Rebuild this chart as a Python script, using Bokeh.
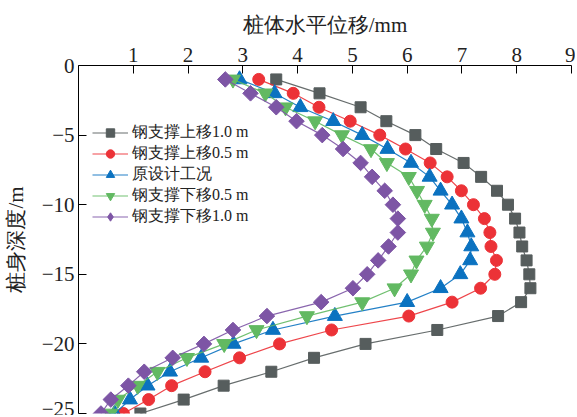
import math
from bokeh.plotting import figure
from bokeh.models import FixedTicker, Range1d, Legend
from bokeh.embed import file_html
from bokeh.resources import INLINE

depth = [-1, -2, -3, -4, -5, -6, -7, -8, -9, -10, -11, -12, -13,
         -14, -15, -16, -17, -18, -19, -20, -21, -22, -23, -24, -25]

up_1_0 = [3.61, 4.40, 5.15, 5.62, 6.15, 6.53, 7.03, 7.35, 7.64, 7.84, 7.97, 8.05, 8.10,
          8.18, 8.23, 8.25, 8.08, 7.66, 6.55, 5.24, 4.30, 3.52, 2.65, 1.92, 1.13]
up_0_5 = [3.29, 3.92, 4.39, 4.96, 5.50, 5.97, 6.42, 6.73, 6.99, 7.21, 7.41, 7.51, 7.53,
          7.63, 7.60, 7.34, 6.82, 6.03, 4.62, 3.67, 2.94, 2.31, 1.70, 1.28, 0.82]
design = [2.94, 3.58, 4.05, 4.65, 5.18, 5.64, 6.07, 6.41, 6.61, 6.82, 6.99, 7.10, 7.17,
          7.15, 6.97, 6.61, 6.00, 4.68, 3.55, 2.83, 2.24, 1.67, 1.26, 0.94, 0.66]
down_0_5 = [2.82, 3.41, 3.78, 4.32, 4.81, 5.34, 5.63, 6.03, 6.18, 6.32, 6.45, 6.47, 6.36,
            6.17, 6.07, 5.77, 5.18, 4.17, 3.25, 2.66, 1.98, 1.44, 1.08, 0.72, 0.58]
down_1_0 = [2.68, 3.14, 3.61, 3.98, 4.45, 4.83, 5.15, 5.36, 5.59, 5.74, 5.83, 5.83, 5.66,
            5.47, 5.27, 5.01, 4.43, 3.44, 2.82, 2.29, 1.72, 1.20, 0.91, 0.59, 0.41]

names = ["钢支撑上移1.0 m", "钢支撑上移0.5 m", "原设计工况", "钢支撑下移0.5 m", "钢支撑下移1.0 m"]
series = [up_1_0, up_0_5, design, down_0_5, down_1_0]
colors = ["#565d5d", "#ec3237", "#0b72c0", "#62b962", "#7d55a5"]
markers = ["square", "circle", "triangle", "inverted_triangle", "square"]
angles = [0, 0, 0, 0, math.pi / 4]
msizes = [11, 12, 15, 15, 11]

x_ticks = [1, 2, 3, 4, 5, 6, 7, 8, 9]
y_ticks = [0, -5, -10, -15, -20, -25]

FONT = "Liberation Serif"

p = figure(width=575, height=415, output_backend="svg", toolbar_location=None,
           x_axis_location="above", x_range=Range1d(0, 9), y_range=Range1d(-25, 0),
           min_border_left=78, min_border_right=4, min_border_top=65, min_border_bottom=2)
p.outline_line_color = None
p.grid.visible = False
p.background_fill_color = "white"

items = []
for name, xs, c, m, a, s in zip(names, series, colors, markers, angles, msizes):
    r1 = p.line(xs, depth, line_color=c, line_width=1.2, line_alpha=0.9)
    r2 = p.scatter(xs, depth, marker=m, angle=a, size=s, fill_color=c, line_color=c)
    if a != 0:
        # legend-only diamond (legend glyphs ignore rotation)
        r2 = p.scatter([float("nan")], [float("nan")], marker="diamond", size=16,
                       fill_color=c, line_color=c)
    items.append((name, [r1, r2]))

legend = Legend(items=items, location=(14, 186))
legend.background_fill_alpha = 0
legend.border_line_color = None
legend.padding = 0
legend.margin = 0
legend.spacing = 0
legend.glyph_width = 36
legend.glyph_height = 21
legend.label_height = 17
legend.label_standoff = 4
legend.label_text_font = FONT
legend.label_text_font_size = "16px"
legend.label_text_color = "#222222"
p.add_layout(legend, "center")

xa = p.xaxis[0]
xa.ticker = FixedTicker(ticks=x_ticks)
xa.axis_label = "桩体水平位移/mm"
ya = p.yaxis[0]
ya.ticker = FixedTicker(ticks=y_ticks)
ya.axis_label = "桩身深度/m"
ya.major_label_overrides = {t: ("−" + str(-t) if t < 0 else str(t)) for t in y_ticks}

for ax in (xa, ya):
    ax.major_tick_in = 8
    ax.major_tick_out = 0
    ax.minor_tick_line_color = None
    ax.axis_line_color = "black"
    ax.major_tick_line_color = "black"
    ax.major_label_text_font = FONT
    ax.major_label_text_font_size = "21px"
    ax.major_label_text_color = "#222222"
    ax.axis_label_text_font = FONT
    ax.axis_label_text_font_size = "21px"
    ax.axis_label_text_font_style = "normal"
    ax.axis_label_text_color = "#222222"
    ax.major_label_standoff = 4
    ax.axis_label_standoff = 8
ya.axis_label_standoff = 11

open("out.html", "w").write(file_html(p, INLINE))
